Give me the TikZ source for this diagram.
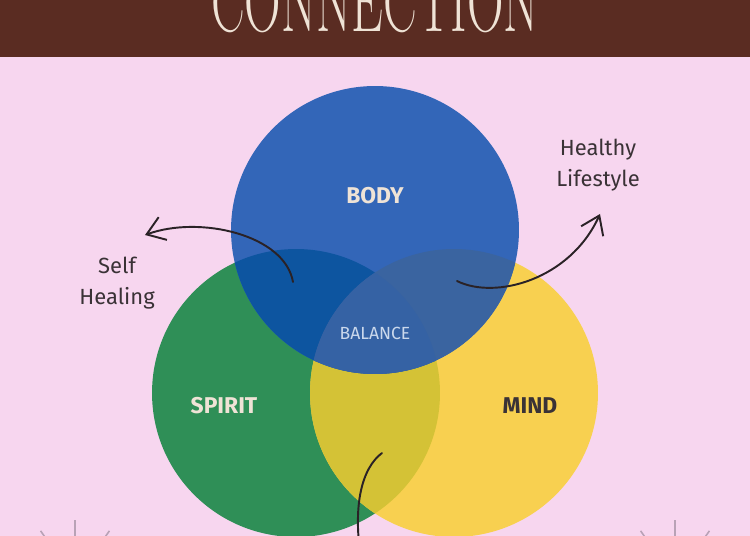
\documentclass[tikz,border=0pt]{standalone}
\usepackage{fontspec}
\setmainfont{Fira Sans}
\newfontfamily\titrefont{Latin Modern Roman}
\usetikzlibrary{arrows.meta}

\definecolor{fond}{HTML}{F7D6EF}
\definecolor{bandeau}{HTML}{5A2C22}
\definecolor{creme}{HTML}{EFE3D6}
\definecolor{bleu}{HTML}{3366B8}
\definecolor{vert}{HTML}{2F8F57}
\definecolor{jaune}{HTML}{F8D050}
\definecolor{bleuvert}{HTML}{0D55A0}
\definecolor{bleujaune}{HTML}{3A64A0}
\definecolor{vertjaune}{HTML}{D4C236}
\definecolor{centre}{HTML}{3562A4}
\definecolor{balancetxt}{HTML}{CAD8EC}
\definecolor{encre}{HTML}{2A2226}
\definecolor{texte}{HTML}{3A3236}
\definecolor{trait}{HTML}{B9A2B6}

\tikzset{
  etiquette/.style={font=\bfseries\fontsize{13}{15}\selectfont},
  legende/.style={font=\fontsize{12.5}{17.5}\selectfont, text=texte, align=center},
  fleche/.style={encre, line width=1.1pt, line cap=round, -{Straight Barb[angle=70:12pt]}},
  rayon/.style={trait, line width=0.9pt},
}

\begin{document}
\begin{tikzpicture}[x=0.02cm, y=-0.02cm]
				\useasboundingbox (0,0) rectangle (750,536);
				\clip (0,0) rectangle (750,536);
				% fond et bandeau
				\fill[fond] (0,0) rectangle (750,536);
				\fill[bandeau] (0,0) rectangle (750,57);
				\node[text=creme, font=\titrefont\fontsize{48}{48}\selectfont, anchor=base, xscale=0.6] (titre) at (375,32) {CONNECTION};
				% les trois cercles
				\coordinate (corps) at (375,230);
				\coordinate (esprit) at (296,393);
				\coordinate (mental) at (454,393);
				\fill[vert] (esprit) circle (2.88cm);
				\fill[jaune] (mental) circle (2.88cm);
				\fill[bleu] (corps) circle (2.88cm);
				% intersections
				\begin{scope}
					\clip (esprit) circle (2.88cm);
					\fill[vertjaune] (mental) circle (2.88cm);
				\end{scope}
				\begin{scope}
					\clip (corps) circle (2.88cm);
					\fill[bleuvert] (esprit) circle (2.88cm);
					\fill[bleujaune] (mental) circle (2.88cm);
				\end{scope}
				\begin{scope}
					\clip (corps) circle (2.88cm);
					\clip (esprit) circle (2.88cm);
					\fill[centre] (mental) circle (2.88cm);
				\end{scope}
				% textes
				\node[etiquette, text=creme] (body) at (375,196) {BODY};
				\node[etiquette, text=creme] (spirit) at (224,406) {SPIRIT};
				\node[etiquette, text=texte] (mind) at (530,406) {MIND};
				\node[font=\fontsize{10}{12}\selectfont, text=balancetxt] (balance) at (375,333) {BALANCE};
				\node[legende] (healing) at (117,283) {Self\\Healing};
				\node[legende] (lifestyle) at (598,165) {Healthy\\Lifestyle};
				% fleches
				\coordinate (a1) at (293,282);
				\coordinate (b1) at (145,235);
				\coordinate (a2) at (457,281);
				\coordinate (b2) at (600,214);
				\coordinate (a3) at (382,453);
				\coordinate (b3) at (362,565);
				\draw[fleche] (a1) .. controls (285,235) and (200,215) .. (b1);
				\draw[fleche] (a2) .. controls (495,300) and (570,280) .. (b2);
				\draw[fleche] (a3) .. controls (362,468) and (352,505) .. (b3);
				% rayons en bas
				\coordinate (soleilg) at (75,580);
				\coordinate (soleild) at (675,580);
				\foreach \a in {-55,-90,-125} {
					\draw[rayon] (soleilg) ++(\a:25) -- ++(\a:35);
					\draw[rayon] (soleild) ++(\a:25) -- ++(\a:35);
				}
		\end{tikzpicture}
\end{document}
